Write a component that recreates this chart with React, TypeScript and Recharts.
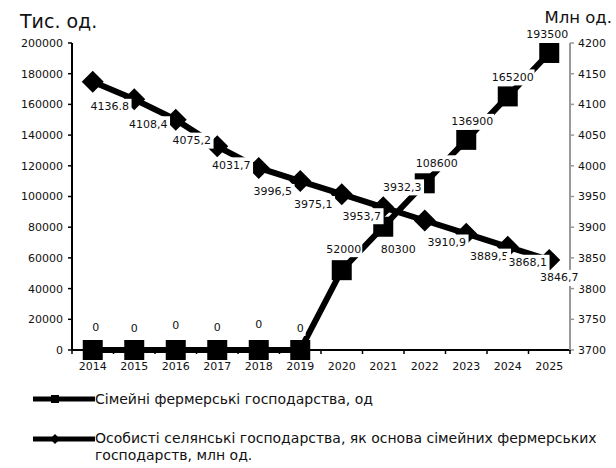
import React from 'react';
import { LineChart, Line, XAxis, YAxis, Legend, LabelList, Label } from 'recharts';

const years = ['2014', '2015', '2016', '2017', '2018', '2019', '2020', '2021', '2022', '2023', '2024', '2025'];
const familyFarms = [0, 0, 0, 0, 0, 0, 52000, 80300, 108600, 136900, 165200, 193500];
const privateHouseholds = [4136.8, 4108.4, 4075.2, 4031.7, 3996.5, 3975.1, 3953.7, 3932.3, 3910.9, 3889.5, 3868.1, 3846.7];
const privateLabels = ['4136.8', '4108,4', '4075,2', '4031,7', '3996,5', '3975,1', '3953,7', '3932,3', '3910,9', '3889,5', '3868,1', '3846,7'];
const leftTicks = [0, 20000, 40000, 60000, 80000, 100000, 120000, 140000, 160000, 180000, 200000];
const rightTicks = [3700, 3750, 3800, 3850, 3900, 3950, 4000, 4050, 4100, 4150, 4200];

const familyName = 'Сімейні фермерські господарства, од';
const privateName1 = 'Особисті селянські господарства, як основа сімейних фермерських';
const privateName2 = 'господарств,  млн од.';

// label offsets (style)
const familyLabelOffsets: [number, number][] = [
  [3, -23], [0, -22], [0, -25], [0, -23], [0, -26], [0, -22],
  [2, -21], [15, 23], [12, -20], [6, -18], [5, -19], [-2, -18],
];
const privateLabelOffsets: [number, number][] = [
  [17, 25], [14, 25], [16, 21], [14, 19], [14, 24], [13, 23],
  [20, 22], [19, -20], [22, 22], [23, 23], [20, 16], [10, 18],
];

const data = years.map((year, i) => ({
  year,
  family: familyFarms[i],
  priv: privateHouseholds[i],
}));

const FONT = '"DejaVu Sans", sans-serif';

const makeLabel = (offsets: [number, number][], texts?: string[]) => (props: any) => {
  const { x, y, value, index } = props;
  if (x == null || y == null) return null;
  const off = offsets[index] || [0, -20];
  const text = texts ? texts[index] : String(value);
  const w = text.length * 6.6 + 4;
  const cx = x + off[0];
  const cy = y + off[1];
  return (
    <g key={`lbl-${index}`}>
      <rect x={cx - w / 2} y={cy - 8} width={w} height={16} fill="#fff" />
      <text x={cx} y={cy} textAnchor="middle" dominantBaseline="central" fontSize={11} fontFamily={FONT} fill="#111">
        {text}
      </text>
    </g>
  );
};

const SquareDot = (props: any) => {
  const { cx, cy, index } = props;
  if (cx == null || cy == null) return null;
  return <rect key={`sq-${index}`} x={cx - 10} y={cy - 10} width={20} height={20} fill="#000" />;
};

const DiamondDot = (props: any) => {
  const { cx, cy, index } = props;
  if (cx == null || cy == null) return null;
  const r = 11;
  return (
    <polygon
      key={`dm-${index}`}
      points={`${cx},${cy - r} ${cx + r},${cy} ${cx},${cy + r} ${cx - r},${cy}`}
      fill="#000"
    />
  );
};

const XTick = (props: any) => {
  const { x, y, payload, index } = props;
  const half = 498 / 12 / 2;
  return (
    <g>
      <line x1={x - half} x2={x - half} y1={y - 6} y2={y - 2} stroke="#000" strokeWidth={1.5} />
      {index === years.length - 1 && (
        <line x1={x + half} x2={x + half} y1={y - 6} y2={y - 2} stroke="#000" strokeWidth={1.5} />
      )}
      <text x={x} y={y + 14} textAnchor="middle" fontSize={11} fontFamily={FONT} fill="#111">
        {payload.value}
      </text>
    </g>
  );
};

const renderLegend = () => (
  <div style={{ position: 'relative', height: 98, width: 616, fontFamily: FONT, fontSize: 14, color: '#111' }}>
    <svg style={{ position: 'absolute', left: 33, top: 20 }} width={62} height={18}>
      <line x1={0} x2={62} y1={9} y2={9} stroke="#000" strokeWidth={5} />
      <rect x={18} y={5} width={8} height={8} fill="#000" />
    </svg>
    <div style={{ position: 'absolute', left: 95, top: 20, lineHeight: '18px', whiteSpace: 'nowrap' }}>{familyName}</div>
    <svg style={{ position: 'absolute', left: 33, top: 60 }} width={62} height={18}>
      <line x1={0} x2={62} y1={9} y2={9} stroke="#000" strokeWidth={5} />
      <polygon points="22,4 27,9 22,14 17,9" fill="#000" />
    </svg>
    <div style={{ position: 'absolute', left: 95, top: 60, lineHeight: '17px', whiteSpace: 'nowrap' }}>
      {privateName1}
      <br />
      {privateName2}
    </div>
  </div>
);

export default function App() {
  return (
    <div style={{ position: 'absolute', left: 0, top: 0, width: 616, height: 468, background: '#fff' }}>
      <LineChart width={616} height={468} data={data} margin={{ top: 43, right: 0, left: 0, bottom: 0 }}>
        <XAxis
          dataKey="year"
          scale="band"
          height={20}
          tick={<XTick />}
          tickLine={false}
          tickSize={4}
          tickMargin={2}
          axisLine={{ stroke: '#000', strokeWidth: 2 }}
          interval={0}
        />
        <YAxis
          yAxisId="left"
          orientation="left"
          width={72}
          domain={[0, 200000]}
          ticks={leftTicks}
          interval={0}
          tick={{ fontSize: 11, fontFamily: FONT, fill: '#111' }}
          tickLine={{ stroke: '#000', strokeWidth: 1.5 }}
          tickSize={4}
          tickMargin={5}
          axisLine={{ stroke: '#000', strokeWidth: 2 }}
        >
          <Label
            content={() => (
              <text x={20} y={28} fontSize={19} fontFamily={FONT} fill="#111">
                Тис. од.
              </text>
            )}
          />
        </YAxis>
        <YAxis
          yAxisId="right"
          orientation="right"
          width={46}
          domain={[3700, 4200]}
          ticks={rightTicks}
          interval={0}
          tick={{ fontSize: 11, fontFamily: FONT, fill: '#111' }}
          tickLine={{ stroke: '#999', strokeWidth: 1.5 }}
          tickSize={4}
          tickMargin={4}
          axisLine={{ stroke: '#999', strokeWidth: 2 }}
        >
          <Label
            content={() => (
              <text x={612} y={23} textAnchor="end" fontSize={16.5} fontFamily={FONT} fill="#111">
                Млн од.
              </text>
            )}
          />
        </YAxis>
        <Legend verticalAlign="bottom" align="left" content={renderLegend} wrapperStyle={{ left: 0, width: 616 }} />
        <Line
          yAxisId="left"
          dataKey="family"
          name={familyName}
          type="linear"
          stroke="#000"
          strokeWidth={6}
          dot={<SquareDot />}
          activeDot={false}
          isAnimationActive={false}
        >
          <LabelList dataKey="family" content={makeLabel(familyLabelOffsets)} />
        </Line>
        <Line
          yAxisId="right"
          dataKey="priv"
          name={privateName1}
          type="linear"
          stroke="#000"
          strokeWidth={6}
          dot={<DiamondDot />}
          activeDot={false}
          isAnimationActive={false}
        >
          <LabelList dataKey="priv" content={makeLabel(privateLabelOffsets, privateLabels)} />
        </Line>
      </LineChart>
    </div>
  );
}
